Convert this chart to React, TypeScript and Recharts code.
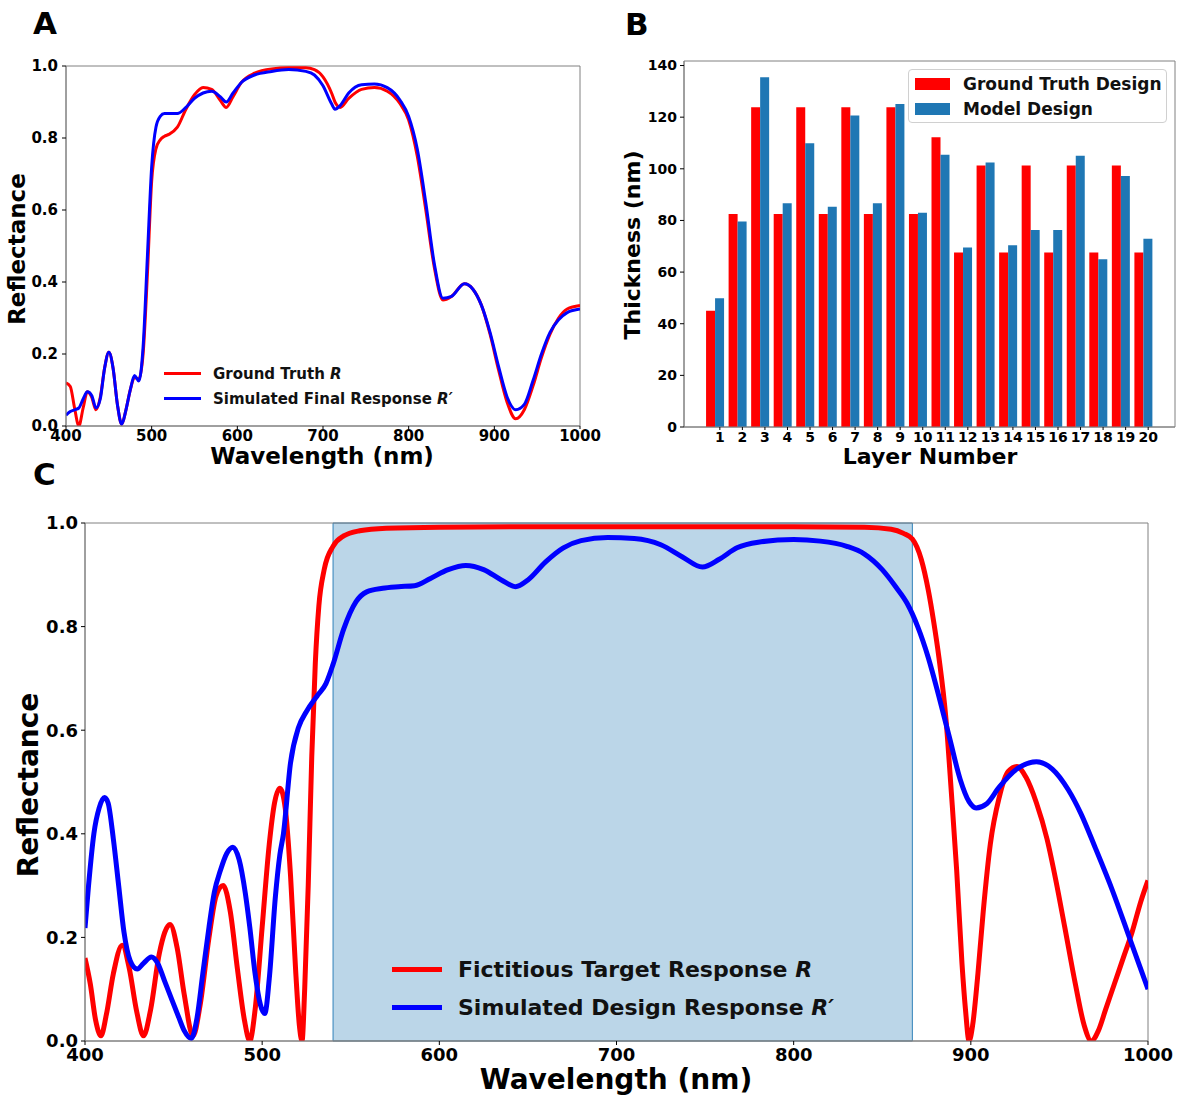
import React from 'react';
import { LineChart, Line, XAxis, YAxis, ReferenceArea, Legend, BarChart, Bar } from 'recharts';

// ---------- Panel A data ----------
const A_WAVELENGTH = [400, 405, 410, 415, 420, 425, 430, 435, 440, 445, 450, 455, 460, 465, 470, 475, 480, 485, 490, 495, 500, 505, 510, 515, 520, 530, 540, 550, 560, 570, 580, 587, 595, 605, 620, 640, 660, 680, 690, 700, 710, 714, 720, 730, 745, 760, 775, 790, 800, 810, 820, 830, 840, 850, 865, 875, 885, 895, 905, 915, 925, 935, 945, 955, 965, 975, 985, 1000];
const A_GROUND_TRUTH = [0.12, 0.11, 0.05, 0.0, 0.05, 0.095, 0.08, 0.045, 0.08, 0.16, 0.205, 0.16, 0.06, 0.005, 0.045, 0.1, 0.135, 0.13, 0.2, 0.42, 0.68, 0.77, 0.795, 0.805, 0.81, 0.83, 0.88, 0.92, 0.94, 0.935, 0.905, 0.885, 0.915, 0.955, 0.98, 0.992, 0.995, 0.995, 0.99, 0.97, 0.925, 0.9, 0.885, 0.91, 0.935, 0.94, 0.93, 0.895, 0.85, 0.75, 0.6, 0.44, 0.35, 0.36, 0.395, 0.38, 0.335, 0.255, 0.155, 0.065, 0.02, 0.045, 0.11, 0.19, 0.255, 0.3, 0.325, 0.335];
const A_SIMULATED = [0.03, 0.04, 0.045, 0.05, 0.075, 0.095, 0.085, 0.05, 0.075, 0.16, 0.205, 0.16, 0.06, 0.005, 0.045, 0.1, 0.14, 0.125, 0.22, 0.47, 0.72, 0.83, 0.86, 0.868, 0.868, 0.868, 0.885, 0.91, 0.925, 0.93, 0.915, 0.9, 0.925, 0.955, 0.975, 0.985, 0.99, 0.985, 0.975, 0.945, 0.895, 0.88, 0.89, 0.925, 0.948, 0.95, 0.94, 0.905, 0.86, 0.77, 0.62, 0.45, 0.355, 0.36, 0.395, 0.38, 0.335, 0.26, 0.165, 0.08, 0.045, 0.06, 0.125, 0.2, 0.26, 0.295, 0.315, 0.325];
const A_X_TICKS = [400, 500, 600, 700, 800, 900, 1000];
const A_Y_TICKS = [0, 0.2, 0.4, 0.6, 0.8, 1.0];

// ---------- Panel B data ----------
const B_LAYERS = [1, 2, 3, 4, 5, 6, 7, 8, 9, 10, 11, 12, 13, 14, 15, 16, 17, 18, 19, 20];
const B_GROUND_TRUTH = [45.0, 82.5, 123.8, 82.5, 123.8, 82.5, 123.8, 82.5, 123.8, 82.5, 112.2, 67.6, 101.3, 67.6, 101.3, 67.6, 101.3, 67.6, 101.3, 67.6];
const B_MODEL = [49.9, 79.6, 135.5, 86.7, 109.9, 85.3, 120.6, 86.7, 125.1, 83.0, 105.4, 69.5, 102.4, 70.4, 76.3, 76.3, 105.1, 65.0, 97.2, 72.9];
const B_Y_TICKS = [0, 20, 40, 60, 80, 100, 120, 140];

// ---------- Panel C data ----------
const C_TARGET_WL = [400, 403, 406, 409, 412, 416, 421, 425, 429, 433, 437, 442, 448, 452, 456, 461, 465, 470, 474, 478, 482, 486, 490, 493, 496, 500, 504, 507, 510, 513, 516, 519, 521, 522.5, 524, 526, 528, 530, 532, 535, 540, 546, 555, 570, 600, 700, 800, 840, 855, 862, 867, 872, 876, 879, 882, 886, 889, 892, 895, 897, 899, 901, 904, 907, 911, 916, 921, 926, 931, 937, 943, 948, 953, 959, 964, 968, 972, 976, 981, 986, 991, 996, 1000];
const C_TARGET = [0.16, 0.11, 0.04, 0.01, 0.05, 0.13, 0.185, 0.14, 0.06, 0.01, 0.06, 0.17, 0.225, 0.18, 0.09, 0.01, 0.07, 0.2, 0.28, 0.3, 0.25, 0.14, 0.04, 0.0, 0.06, 0.22, 0.38, 0.46, 0.488, 0.45, 0.32, 0.13, 0.03, 0.0, 0.1, 0.3, 0.55, 0.73, 0.84, 0.91, 0.955, 0.975, 0.985, 0.99, 0.992, 0.993, 0.993, 0.992, 0.988, 0.98, 0.969, 0.93, 0.87, 0.81, 0.74, 0.62, 0.48, 0.33, 0.15, 0.06, 0.0, 0.03, 0.13, 0.25, 0.38, 0.47, 0.52, 0.53, 0.51, 0.46, 0.39, 0.31, 0.22, 0.11, 0.03, 0.0, 0.02, 0.06, 0.11, 0.16, 0.21, 0.27, 0.31];
const C_DESIGN_WL = [400, 402, 405, 408, 411, 413, 416, 419, 422, 425.5, 429.5, 433, 437.5, 441, 445, 449, 453, 456, 460, 463, 466.5, 470, 473, 476.5, 480, 483.5, 487, 490.5, 493, 496, 499, 501.5, 504, 507.5, 510, 512, 516, 520.5, 525, 531, 536, 540, 546, 553, 559, 568, 577, 586, 595, 605, 615, 625, 635, 643, 650, 660, 670, 680, 695, 710, 725, 737, 748.5, 758, 768, 780, 800, 815, 830, 840, 850, 858, 864, 870, 876, 882, 888, 894, 899, 903, 909, 916, 926, 937, 946, 955, 962, 970, 980, 990, 1000];
const C_DESIGN = [0.218, 0.3, 0.4, 0.45, 0.47, 0.46, 0.39, 0.3, 0.21, 0.155, 0.139, 0.15, 0.162, 0.15, 0.115, 0.08, 0.045, 0.02, 0.005, 0.04, 0.13, 0.22, 0.287, 0.33, 0.362, 0.374, 0.35, 0.285, 0.22, 0.13, 0.07, 0.053, 0.12, 0.28, 0.36, 0.4, 0.537, 0.605, 0.636, 0.666, 0.69, 0.727, 0.795, 0.848, 0.867, 0.874, 0.877, 0.879, 0.893, 0.91, 0.918, 0.91, 0.89, 0.877, 0.89, 0.925, 0.952, 0.966, 0.972, 0.97, 0.958, 0.935, 0.915, 0.93, 0.952, 0.963, 0.968, 0.965, 0.955, 0.94, 0.91, 0.875, 0.845, 0.8, 0.74, 0.665, 0.585, 0.505, 0.462, 0.45, 0.458, 0.49, 0.525, 0.539, 0.525, 0.485, 0.44, 0.375, 0.29, 0.195, 0.1];
const C_BAND = [540, 867];
const C_X_TICKS = [400, 500, 600, 700, 800, 900, 1000];
const C_Y_TICKS = [0, 0.2, 0.4, 0.6, 0.8, 1.0];

// ---------- legend texts ----------
const A_LEGEND = [
  { text: 'Ground Truth ', sym: 'R', color: '#ff0000' },
  { text: 'Simulated Final Response ', sym: 'R\u2032', color: '#0000ff' },
];
const B_LEGEND = [
  { text: 'Ground Truth Design', color: '#ff0000' },
  { text: 'Model Design', color: '#1f77b4' },
];
const C_LEGEND = [
  { text: 'Fictitious Target Response ', sym: 'R', color: '#ff0000' },
  { text: 'Simulated Design Response ', sym: 'R\u2032', color: '#0000ff' },
];

const FONT = '"DejaVu Sans", "Liberation Sans", sans-serif';
const SPINE = '#808080';

const zip = (xs: number[], ys: number[]) => xs.map((w, i) => ({ w, r: ys[i] }));

const aRed = zip(A_WAVELENGTH, A_GROUND_TRUTH);
const aBlue = zip(A_WAVELENGTH, A_SIMULATED);
const bData = B_LAYERS.map((l, i) => ({ pos: l - 0.2, gt: B_GROUND_TRUTH[i], model: B_MODEL[i] }));
const cRed = zip(C_TARGET_WL, C_TARGET);
const cBlue = zip(C_DESIGN_WL, C_DESIGN);

const tickStyle = (size: number) => ({ fill: '#000', fontSize: size, fontWeight: 700, fontFamily: FONT });

const LineLegend = ({ items, lineLen, lineW, gap, rowH, fontSize }: any) => (
  <div style={{ fontFamily: FONT, fontWeight: 700, fontSize, color: '#111' }}>
    {items.map((it: any, i: number) => (
      <div key={i} style={{ display: 'flex', alignItems: 'center', height: rowH, whiteSpace: 'nowrap' }}>
        <div style={{ width: lineLen, height: lineW, background: it.color, marginRight: gap }} />
        <span>
          {it.text}
          <span style={{ fontStyle: 'italic' }}>{it.sym}</span>
        </span>
      </div>
    ))}
  </div>
);

const BarLegend = () => (
  <div
    style={{
      fontFamily: FONT,
      fontWeight: 700,
      fontSize: 17,
      color: '#111',
      width: 259,
      height: 54,
      boxSizing: 'border-box',
      border: '1px solid #d0d0d0',
      borderRadius: 4,
      background: 'rgba(255,255,255,0.85)',
      paddingTop: 1,
    }}
  >
    {B_LEGEND.map((it, i) => (
      <div key={i} style={{ display: 'flex', alignItems: 'center', height: 25, whiteSpace: 'nowrap' }}>
        <div style={{ width: 35, height: 12, background: it.color, marginLeft: 6, marginRight: 13 }} />
        <span>{it.text}</span>
      </div>
    ))}
  </div>
);

const Title = ({ text, x, y, size, rotate }: any) => (
  <div
    style={{
      position: 'absolute',
      left: x,
      top: y,
      transform: `translate(-50%, -50%)${rotate ? ' rotate(-90deg)' : ''}`,
      fontFamily: FONT,
      fontWeight: 700,
      fontSize: size,
      lineHeight: 1,
      whiteSpace: 'nowrap',
      color: '#000',
    }}
  >
    {text}
  </div>
);

const Letter = ({ text, x, y }: any) => (
  <div
    style={{
      position: 'absolute',
      left: x,
      top: y,
      fontFamily: FONT,
      fontWeight: 700,
      fontSize: 31,
      lineHeight: 1,
      color: '#000',
    }}
  >
    {text}
  </div>
);

export default function App() {
  return (
    <div style={{ position: 'absolute', left: 0, top: 0, width: 1177, height: 1096, background: '#fff', overflow: 'hidden' }}>
      {/* Panel A */}
      <div style={{ position: 'absolute', left: 0, top: 0 }}>
        <LineChart width={610} height={480} margin={{ top: 66, right: 30, bottom: 24, left: 16 }}>
          <XAxis
            type="number"
            dataKey="w"
            domain={[400, 1000]}
            ticks={A_X_TICKS}
            interval={0}
            allowDataOverflow
            height={30}
            tickSize={3}
            tickMargin={1}
            tick={tickStyle(15)}
            axisLine={{ stroke: SPINE }}
            tickLine={{ stroke: '#000' }}
          />
          <YAxis
            type="number"
            domain={[0, 1]}
            ticks={A_Y_TICKS}
            interval={0}
            allowDataOverflow
            width={50}
            tickSize={4}
            tickMargin={4}
            tickFormatter={(v: number) => v.toFixed(1)}
            tick={tickStyle(15)}
            axisLine={{ stroke: SPINE }}
            tickLine={{ stroke: '#000' }}
          />
          <ReferenceArea x1={400} x2={1000} y1={0} y2={1} fill="none" stroke={SPINE} strokeWidth={1} />
          <Line data={aRed} dataKey="r" type="monotone" stroke="#ff0000" strokeWidth={3} dot={false} isAnimationActive={false} />
          <Line data={aBlue} dataKey="r" type="monotone" stroke="#0000ff" strokeWidth={3} dot={false} isAnimationActive={false} />
          <Legend
            layout="vertical"
            align="center"
            verticalAlign="middle"
            wrapperStyle={{ left: 164, top: 361, width: 'auto' }}
            content={() => <LineLegend items={A_LEGEND} lineLen={37} lineW={3} gap={12} rowH={25} fontSize={15} />}
          />
        </LineChart>
      </div>

      {/* Panel B */}
      <div style={{ position: 'absolute', left: 590, top: 0 }}>
        <BarChart width={587} height={480} data={bData} barGap={0} margin={{ top: 61, right: 2, bottom: 0, left: 0 }}>
          <XAxis
            type="number"
            dataKey="pos"
            domain={[-0.59, 21.19]}
            ticks={B_LAYERS}
            interval={0}
            allowDataOverflow
            height={53}
            tickSize={3}
            tickMargin={2}
            tick={tickStyle(14)}
            axisLine={{ stroke: SPINE }}
            tickLine={{ stroke: '#000' }}
          />
          <YAxis
            type="number"
            domain={[0, 141.75]}
            ticks={B_Y_TICKS}
            interval={0}
            allowDataOverflow
            width={94}
            tickSize={4}
            tickMargin={3}
            tick={tickStyle(14)}
            axisLine={{ stroke: SPINE }}
            tickLine={{ stroke: '#000' }}
          />
          <ReferenceArea x1={-0.59} x2={21.19} y1={0} y2={141.75} fill="none" stroke={SPINE} strokeWidth={1} />
          <Bar dataKey="gt" fill="#ff0000" barSize={9} isAnimationActive={false} />
          <Bar dataKey="model" fill="#1f77b4" barSize={9} isAnimationActive={false} />
          <Legend
            layout="vertical"
            align="center"
            verticalAlign="middle"
            wrapperStyle={{ left: 318, top: 69, width: 'auto' }}
            content={() => <BarLegend />}
          />
        </BarChart>
      </div>

      {/* Panel C */}
      <div style={{ position: 'absolute', left: 0, top: 490 }}>
        <LineChart width={1177} height={606} margin={{ top: 33, right: 29, bottom: 0, left: 0 }}>
          <XAxis
            type="number"
            dataKey="w"
            domain={[400, 1000]}
            ticks={C_X_TICKS}
            interval={0}
            allowDataOverflow
            height={55}
            tickSize={4}
            tickMargin={3}
            tick={tickStyle(18)}
            axisLine={{ stroke: SPINE }}
            tickLine={{ stroke: '#000' }}
          />
          <YAxis
            type="number"
            domain={[0, 1]}
            ticks={C_Y_TICKS}
            interval={0}
            allowDataOverflow
            width={85}
            tickSize={4}
            tickMargin={3}
            tickFormatter={(v: number) => v.toFixed(1)}
            tick={tickStyle(18)}
            axisLine={{ stroke: SPINE }}
            tickLine={{ stroke: '#000' }}
          />
          <ReferenceArea x1={C_BAND[0]} x2={C_BAND[1]} y1={0} y2={1} fill="#1f77b4" fillOpacity={0.3} stroke="#1f77b4" strokeOpacity={0.9} strokeWidth={1} />
          <ReferenceArea x1={400} x2={1000} y1={0} y2={1} fill="none" stroke={SPINE} strokeWidth={1} />
          <Line data={cRed} dataKey="r" type="monotone" stroke="#ff0000" strokeWidth={5} dot={false} isAnimationActive={false} />
          <Line data={cBlue} dataKey="r" type="monotone" stroke="#0000ff" strokeWidth={5} dot={false} isAnimationActive={false} />
          <Legend
            layout="vertical"
            align="center"
            verticalAlign="middle"
            wrapperStyle={{ left: 392, top: 460, width: 'auto' }}
            content={() => <LineLegend items={C_LEGEND} lineLen={50} lineW={5} gap={16} rowH={38} fontSize={22} />}
          />
        </LineChart>
      </div>

      {/* Titles */}
      <Letter text="A" x={33} y={8} />
      <Letter text="B" x={625} y={9} />
      <Letter text="C" x={33} y={459} />
      <Title text="Reflectance" x={17} y={249} size={23} rotate />
      <Title text="Wavelength (nm)" x={322} y={456} size={23} />
      <Title text="Thickness (nm)" x={633} y={245} size={22} rotate />
      <Title text="Layer Number" x={930} y={457} size={22} />
      <Title text="Reflectance" x={29} y={785} size={28} rotate />
      <Title text="Wavelength (nm)" x={616} y={1080} size={28} />
    </div>
  );
}
